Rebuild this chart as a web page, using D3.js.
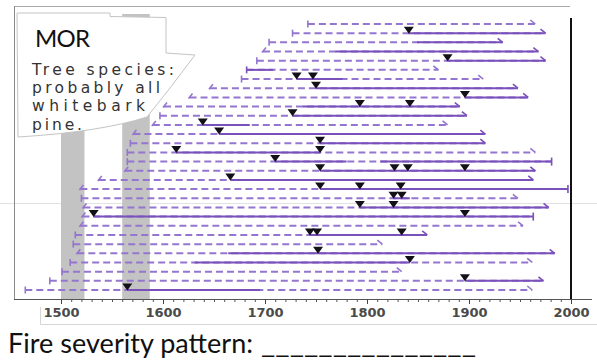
<!DOCTYPE html>
<html><head><meta charset="utf-8">
<script src="https://cdn.jsdelivr.net/npm/d3@7"></script>
<style>body{margin:0;background:#fff}svg{display:block}</style>
</head><body>
<svg id="c" width="597" height="364"></svg>
<script>
// ---- data ----
const rowStart = [1742,1727,1704,1698,1692,1682,1677,1646,1626,1601,1597,1590,1571,1568,1565,1565,1563,1537,1519,1520,1522,1521,1519,1514,1512,1516,1509,1501,1489,1465];
const rowStartType = ["P","P","P","I","P","P","P","I","I","I","P","I","I","P","P","P","I","I","I","P","I","I","I","P","P","I","P","P","P","P"];
const rowEnd = [1965,1975,1933,1968,1975,1870,1914,1948,1958,1891,1898,1879,1916,1916,1965,1981,1965,1963,1997,1948,1978,1963,1953,1859,1815,1984,1962,1834,1973,1962];
const rowEndType = ["O","O","O","O","O","O","O","O","O","O","O","O","O","O","O","B","O","O","B","O","O","B","O","O","O","O","O","O","O","O"];
const recording = [
  [], [[1841,1975]], [[1849,1933]], [[1769,1968]], [[1879,1975]],
  [[1682,1708]], [[1731,1776]], [[1750,1948]], [[1896,1958]], [[1737,1891]],
  [[1727,1898]], [[1639,1685]], [[1655,1916]], [[1754,1916]], [[1613,1754]],
  [[1710,1780],[1813,1981]], [[1754,1965]], [[1666,1963]], [[1754,1997]], [[1826,1842]],
  [[1793,1978]], [[1532,1963]], [], [[1744,1859]], [],
  [[1664,1984]], [[1631,1842]], [], [[1896,1973]], [[1565,1695]]
];
const scarYears = [
  [], [1841], [], [], [1879],
  [], [1731,1747], [1750], [1896], [1793,1842],
  [1727], [1639], [1655], [1754], [1613,1754],
  [1710], [1754,1827,1840,1896], [1666], [1754,1793,1833], [1826,1834],
  [1793,1826], [1532,1896], [], [1744,1751,1834], [],
  [1752], [1842], [], [1896], [1565]
];
const bands = [[1500,1523],[1560,1587]];
const majorTicks = [1500,1600,1700,1800,1900,2000];
const minorTicks = d3.range(1500,2001,10);
const endYearLine = 2000;
const calloutTitle = "MOR";
const calloutLines = ["Tree species:","probably all","whitebark","pine."];
const footerText = "Fire severity pattern:";
const footerBlank = "_______________";

// ---- drawing ----
const svg = d3.select("#c");
const x = d3.scaleLinear().domain([1500,2000]).range([61,571]);
const y = d3.scaleLinear().domain([0, rowStart.length-1]).range([24,290]);
const rows = d3.range(rowStart.length);
const dashCol = "#9475cf", solidCol = "#7a50bb";

// page artifacts
svg.append("line").attr("x1",0).attr("x2",597).attr("y1",203.5).attr("y2",203.5)
  .attr("stroke","#e2e2e2").attr("stroke-width",1);

// frame
svg.append("line").attr("x1",14).attr("x2",570).attr("y1",6.5).attr("y2",6.5).attr("stroke","#a8a8a8");
svg.append("line").attr("x1",14.5).attr("x2",14.5).attr("y1",6).attr("y2",299).attr("stroke","#8a8a8a");

// grey bands
svg.selectAll("rect.band").data(bands).join("rect").attr("class","band")
  .attr("x",d=>x(d[0])).attr("width",d=>x(d[1])-x(d[0]))
  .attr("y",14).attr("height",299-14).attr("fill","#c3c3c3");

// dashed full spans
svg.selectAll("line.span").data(rows).join("line").attr("class","span")
  .attr("x1",i=>x(rowStart[i])).attr("x2",i=>x(rowEnd[i]))
  .attr("y1",i=>y(i)).attr("y2",i=>y(i))
  .attr("stroke",dashCol).attr("stroke-width",2).attr("stroke-dasharray","7,4");

// solid recording intervals
const segs = rows.flatMap(i => recording[i].map(s => ({i, a:s[0], b:s[1]})));
svg.selectAll("line.rec").data(segs).join("line").attr("class","rec")
  .attr("x1",d=>x(d.a)).attr("x2",d=>x(d.b)).attr("y1",d=>y(d.i)).attr("y2",d=>y(d.i))
  .attr("stroke",solidCol).attr("stroke-width",2);

// start markers
svg.selectAll("path.st").data(rows).join("path").attr("class","st")
  .attr("d",i=>{const X=x(rowStart[i]),Y=y(i);
    return rowStartType[i]==="P" ? `M${X},${Y-3.5}L${X},${Y+3.5}` : `M${X-1},${Y+1}L${X+3},${Y-4}`;})
  .attr("stroke",i=>recording[i].some(s=>s[0]===rowStart[i])?solidCol:dashCol)
  .attr("stroke-width",1.6).attr("fill","none");

// end markers
svg.selectAll("path.en").data(rows).join("path").attr("class","en")
  .attr("d",i=>{const X=x(rowEnd[i]),Y=y(i);
    return rowEndType[i]==="B" ? `M${X},${Y-4}L${X},${Y+4}` : `M${X-5},${Y-4}L${X},${Y}`;})
  .attr("stroke",i=>recording[i].some(s=>s[1]===rowEnd[i])?solidCol:dashCol)
  .attr("stroke-width",1.6).attr("fill","none");

// fire scars
const scars = rows.flatMap(i => scarYears[i].map(yr => ({i, yr})));
svg.selectAll("path.scar").data(scars).join("path").attr("class","scar")
  .attr("d",d=>{const X=x(d.yr),Y=y(d.i);return `M${X-5},${Y-6.5}L${X+5},${Y-6.5}L${X},${Y+0.5}Z`;})
  .attr("fill","#141018");

// right black line
svg.append("line").attr("x1",x(endYearLine)).attr("x2",x(endYearLine)).attr("y1",18).attr("y2",300)
  .attr("stroke","#111").attr("stroke-width",2);

// axis
const axisG = svg.append("g").attr("transform","translate(0,299)");
axisG.append("line").attr("x1",14).attr("x2",592).attr("y1",0.5).attr("y2",0.5).attr("stroke","#555");
axisG.append("g").call(d3.axisBottom(x).tickValues(minorTicks).tickSize(3).tickFormat(""))
  .call(g=>g.select(".domain").remove()).selectAll("line").attr("stroke","#555");
const maj = axisG.append("g").call(d3.axisBottom(x).tickValues(majorTicks).tickSize(5).tickPadding(4).tickFormat(d3.format("d")))
  .call(g=>g.select(".domain").remove());
maj.selectAll("line").attr("stroke","#444");
maj.selectAll("text").attr("font-family","DejaVu Sans, Verdana, sans-serif").attr("font-size",13)
  .attr("font-weight","bold").attr("fill","#4a4a4a");
svg.append("path").attr("d","M40.5,307V324.5H597").attr("stroke","#d6d6d6").attr("fill","none");

// callout
svg.append("path")
  .attr("d","M17,13L110,13L110,16.5L166,17.5L166,53L195,55L170,88L147,117Q100,132 18,137Z")
  .attr("fill","#fff").attr("stroke","#c4c4c4").attr("stroke-width",1);
svg.append("text").attr("x",35).attr("y",47).text(calloutTitle)
  .attr("font-family","Lato, 'Liberation Sans', sans-serif").attr("font-size",24)
  .attr("textLength",55).attr("fill","#111");
const lineLens = [142,128,113,50];
svg.selectAll("text.cl").data(calloutLines).join("text").attr("class","cl")
  .attr("x",32).attr("y",(d,i)=>75+i*18.2).text(d=>d)
  .attr("font-family","'DejaVu Sans', Verdana, sans-serif").attr("font-size",15.5)
  .attr("textLength",(d,i)=>lineLens[i]).attr("lengthAdjust","spacing").attr("fill","#333");

// footer
svg.append("text").attr("x",8).attr("y",353).text(footerText)
  .attr("font-family","Lato, 'Liberation Sans', sans-serif").attr("font-size",27)
  .attr("textLength",245).attr("fill","#111");
svg.append("text").attr("x",261).attr("y",353).text(footerBlank)
  .attr("font-family","Lato, 'Liberation Sans', sans-serif").attr("font-size",27)
  .attr("textLength",215).attr("lengthAdjust","spacingAndGlyphs").attr("fill","#111");
</script>
</body></html>
